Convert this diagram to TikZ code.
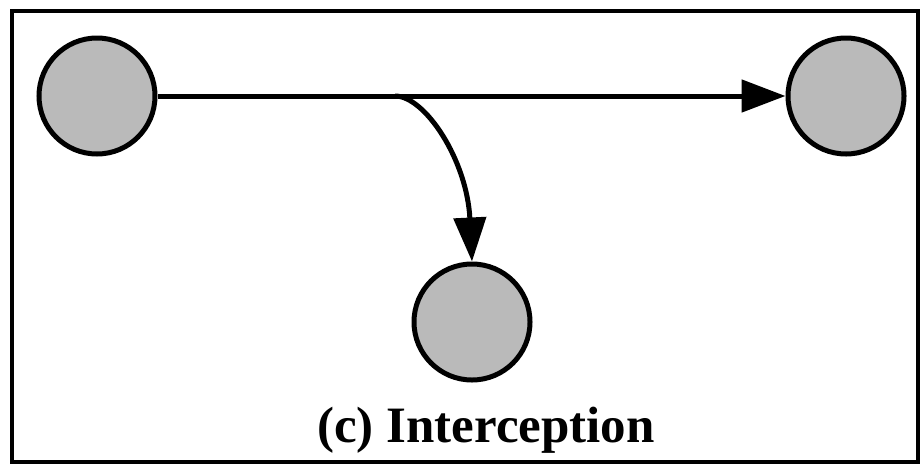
\documentclass[tikz,border=0pt]{standalone}
\usepackage{fontspec}
\setmainfont{Liberation Serif}
\usetikzlibrary{arrows.meta}
\begin{document}
\begin{tikzpicture}[x=1pt,y=-1pt,
  station/.style={circle, draw=black, line width=5pt, fill=black!27, minimum size=116pt, inner sep=0pt},
  flow/.style={line width=5pt, -{Triangle[length=44pt,width=32pt]}},
  frame/.style={line width=4pt}]
\useasboundingbox (0,0) rectangle (923,472);
\draw[frame] (12,11) rectangle (918,462);
\node[station] (src) at (97,96) {};
\node[station] (dst) at (846,96) {};
\node[station] (spy) at (472,322) {};
\coordinate (br) at (395,96);
\draw[flow] (src) -- (dst);
\draw[flow] (br) .. controls (425,96) and (467,160) .. (spy.north);
\node[font=\fontsize{51}{60}\selectfont\bfseries] (cap) at (486,430) {(c) Interception};
\end{tikzpicture}
\end{document}
